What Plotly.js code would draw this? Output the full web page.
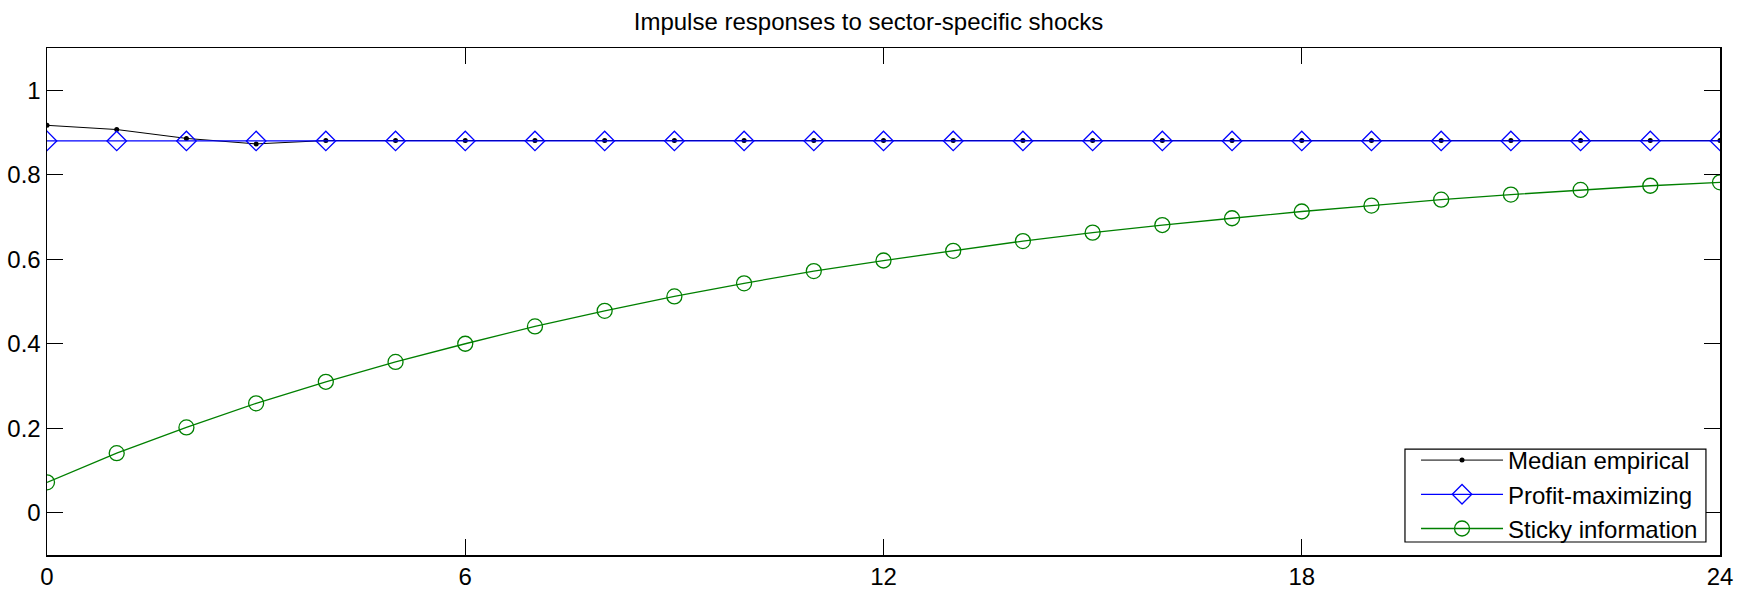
<!DOCTYPE html>
<html>
<head>
<meta charset="utf-8">
<script src="https://cdn.plot.ly/plotly-3.0.1.min.js"></script>
<style>html,body{margin:0;padding:0;background:#fff;}#chart{width:1737px;height:592px;}</style>
</head>
<body>
<div id="chart"></div>
<script>
const months = [0,1,2,3,4,5,6,7,8,9,10,11,12,13,14,15,16,17,18,19,20,21,22,23,24];
const medianEmpirical = [0.917,0.907,0.886,0.873,0.881,0.881,0.881,0.881,0.881,0.881,0.881,0.881,0.881,0.881,0.881,0.881,0.881,0.881,0.881,0.881,0.881,0.881,0.881,0.881,0.881];
const profitMax = [0.880,0.880,0.880,0.880,0.880,0.880,0.880,0.880,0.880,0.880,0.880,0.880,0.880,0.880,0.880,0.880,0.880,0.880,0.880,0.880,0.880,0.880,0.880,0.880,0.880];
const stickyInfo = [0.072,0.141,0.202,0.259,0.310,0.357,0.400,0.441,0.478,0.512,0.543,0.572,0.597,0.620,0.643,0.663,0.681,0.697,0.713,0.727,0.741,0.753,0.764,0.774,0.782];
const xTicks = [0,6,12,18,24];
const yTicks = [0,0.2,0.4,0.6,0.8,1];
const yTickLabels = ['0','0.2','0.4','0.6','0.8','1'];

const font = 'Liberation Sans, Arial, sans-serif';
const traces = [
  {x: months, y: medianEmpirical, name: 'Median empirical', mode: 'lines+markers',
   line: {color: '#000000', width: 1}, marker: {symbol: 'circle', size: 5, color: '#000000'}},
  {x: months, y: profitMax, name: 'Profit-maximizing', mode: 'lines+markers',
   line: {color: '#0000ff', width: 1.3}, marker: {symbol: 'diamond-open', size: 15, color: '#0000ff', line: {width: 1.3}}},
  {x: months, y: stickyInfo, name: 'Sticky information', mode: 'lines+markers',
   line: {color: '#008000', width: 1.3}, marker: {symbol: 'circle-open', size: 15, color: '#008000', line: {width: 1.3}}}
];
const layout = {
  width: 1737, height: 592,
  margin: {l: 47, r: 17, t: 48, b: 37},
  paper_bgcolor: '#ffffff', plot_bgcolor: '#ffffff',
  font: {family: font, size: 24, color: '#000'},
  title: {text: 'Impulse responses to sector-specific shocks', font: {family: font, size: 24, color: '#000'},
          x: 0.5, xanchor: 'center', y: 1, yref: 'paper', yanchor: 'bottom', pad: {b: 18}},
  xaxis: {range: [0, 24], tickvals: xTicks, ticktext: xTicks.map(String), ticks: 'inside', ticklen: 16,
          tickcolor: '#000', tickwidth: 1, showline: true, linecolor: '#000', linewidth: 1.5, mirror: 'ticks',
          showgrid: false, zeroline: false, tickfont: {size: 24}, ticklabelstandoff: 0},
  yaxis: {range: [-0.1, 1.1], tickvals: yTicks, ticktext: yTickLabels, ticks: 'inside', ticklen: 16,
          tickcolor: '#000', tickwidth: 1, showline: true, linecolor: '#000', linewidth: 1.5, mirror: 'ticks',
          showgrid: false, zeroline: false, tickfont: {size: 24}, ticklabelstandoff: 0},
  shapes: [{type: 'rect', xref: 'paper', yref: 'paper', x0: 0.8117, x1: 0.9916, y0: 0.0256, y1: 0.209,
            layer: 'above', fillcolor: '#ffffff', line: {color: '#000', width: 1.2}}],
  showlegend: true,
  legend: {x: 0.8183, y: 0.2308, xanchor: 'left', yanchor: 'top', bgcolor: 'rgba(0,0,0,0)',
           borderwidth: 0, font: {family: font, size: 24, color: '#000'},
           tracegroupgap: 0, itemwidth: 82}
};
Plotly.newPlot('chart', traces, layout, {staticPlot: true, displayModeBar: false});
</script>
</body>
</html>
